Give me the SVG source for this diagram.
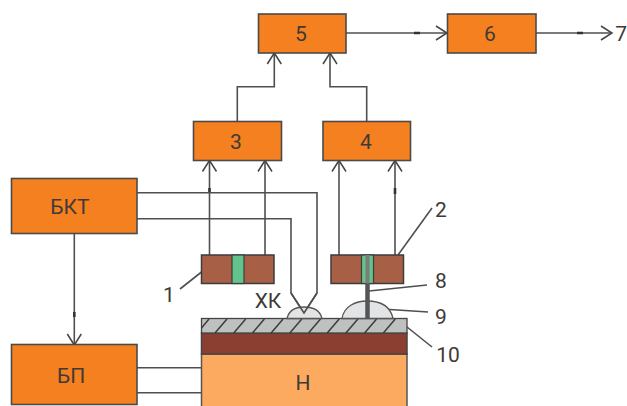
<svg xmlns="http://www.w3.org/2000/svg" width="627" height="406" viewBox="0 0 627 406">
<defs>
<marker id="arr" markerUnits="userSpaceOnUse" markerWidth="18" markerHeight="18" refX="12" refY="8" orient="auto" overflow="visible"><path d="M1 1L12 8L1 15" fill="none" stroke="#454545" stroke-width="1.5"/></marker>
</defs>
<style>
.b{fill:#f58020;stroke:#4a4a4a;stroke-width:1.6}
.t{font-family:Roboto,"Liberation Sans",sans-serif;font-size:21px;fill:#3f3a36;text-anchor:middle}
.l{fill:none;stroke:#4f4f4f;stroke-width:1.6}
.k{fill:none;stroke:#333;stroke-width:2.6}
.s{fill:#a75f45;stroke:#3c3c3c;stroke-width:1.5}
.g{fill:#62c48c;stroke:#3c3c3c;stroke-width:1.2}
.d{fill:#e3e4e6;stroke:#555;stroke-width:1.3}
</style>
<rect width="627" height="406" fill="#fff"/>
<g id="connectors">
<path class="l" d="M237.300 121V86.700H274.300V53" marker-end="url(#arr)"/>
<path class="l" d="M366.700 121V86.700H330V53" marker-end="url(#arr)"/>
<path class="l" d="M346 33H447" marker-end="url(#arr)"/>
<path class="l" d="M536 33H612" marker-end="url(#arr)"/>
<path class="l" d="M209.500 255V160.500" marker-end="url(#arr)"/>
<path class="l" d="M265 255V160.500" marker-end="url(#arr)"/>
<path class="l" d="M339 255V160.500" marker-end="url(#arr)"/>
<path class="l" d="M395 255V160.500" marker-end="url(#arr)"/>
<path class="l" d="M74.300 233.500V345" marker-end="url(#arr)"/>
<path class="l" d="M137 192.700H317V293L304 313L291 293V218.700H137"/>
<path class="l" d="M137 367.700H202M137 392.700H202"/>
<path class="l" d="M180 289L201.500 272"/>
<path class="l" d="M398 255L432 208"/>
<path class="l" d="M369 291L427 285"/>
<path class="l" d="M382 309L428 312"/>
<path class="l" d="M407 327L432 347"/>
<path class="k" d="M414 33H420M577 33H583M74.300 312V317M395 188V194M209.500 188V192"/>
</g>
<g id="node-5"><rect class="b" x="258.500" y="14" width="87.500" height="39"/><text class="t" x="301" y="41">5</text></g>
<g id="node-6"><rect class="b" x="447.500" y="14" width="88.500" height="39"/><text class="t" x="490" y="41">6</text></g>
<g id="node-3"><rect class="b" x="193.500" y="121.500" width="88" height="39"/><text class="t" x="236" y="149">3</text></g>
<g id="node-4"><rect class="b" x="323" y="121.500" width="87.500" height="39"/><text class="t" x="366" y="149">4</text></g>
<g id="node-bkt"><rect class="b" x="11.500" y="178.500" width="125.500" height="55"/><text class="t" x="70" y="214">БКТ</text></g>
<g id="node-bp"><rect class="b" x="11.500" y="344.500" width="125.500" height="60"/><text class="t" x="71" y="383">БП</text></g>
<g id="sensor-1"><rect class="s" x="201.500" y="255" width="72.500" height="28.500"/><rect class="g" x="232" y="255" width="12" height="28.500"/><text class="t" x="169" y="302">1</text></g>
<g id="sensor-2"><rect class="s" x="331" y="255" width="72.500" height="28.500"/><rect class="g" x="361.500" y="255" width="12" height="28.500"/><text class="t" x="441" y="217">2</text></g>
<g id="substrate">
<rect x="201.500" y="354" width="205.500" height="54" fill="#fbaa60" stroke="#555" stroke-width="1.500"/>
<rect x="201.500" y="333" width="205.500" height="21" fill="#8a3f30" stroke="#444" stroke-width="1.500"/>
<rect x="201.500" y="318.500" width="205.500" height="14.500" fill="#bfc0c0" stroke="#444" stroke-width="1.300"/>
<path d="M201.500 328L209 319M215 333L227 319M233.700 333L245.700 319M252.400 333L264.400 319M271.100 333L283.100 319M289.800 333L301.800 319M308.500 333L320.500 319M327.200 333L339.200 319M345.900 333L357.900 319M364.600 333L376.600 319M383.300 333L395.300 319" stroke="#3c3c3c" stroke-width="1.500" fill="none"/>
<text class="t" x="303" y="390">Н</text>
</g>
<g id="xk"><path class="d" d="M287 318.500C289 310 296 307 304 307S320 310 322 318.500Z"/><path class="l" d="M291 293L304 313L317 293"/><text class="t" x="268" y="308">ХК</text></g>
<g id="heater"><path class="d" d="M342 318.500C344 306 356 301 367 301S390 304 393 318.500Z"/><path d="M367.500 283.500V318.500" stroke="#555" stroke-width="4.500" fill="none"/><path d="M367.500 255V283.500" stroke="#7d7d78" stroke-width="4" fill="none"/><text class="t" x="441" y="288">8</text><text class="t" x="441" y="324">9</text><text class="t" x="448" y="362">10</text></g>
<text class="t" style="text-anchor:end" x="627" y="41">7</text>
</svg>
